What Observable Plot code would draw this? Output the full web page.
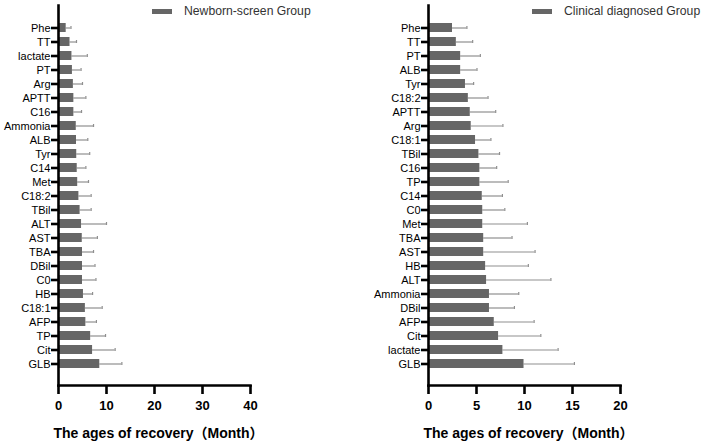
<!DOCTYPE html>
<html>
<head>
<meta charset="utf-8">
<script src="https://cdn.jsdelivr.net/npm/d3@7"></script>
<script src="https://cdn.jsdelivr.net/npm/@observablehq/plot@0.6"></script>
<style>
  html, body { margin: 0; padding: 0; background: #fff; }
  #wrap { position: relative; width: 706px; height: 444px; display: flex; font-family: "Liberation Sans", Arial, sans-serif; }
  .legend { position: absolute; top: 4px; display: flex; align-items: center; font-size: 12.2px; color: #333; white-space: nowrap; }
  .legend .sw { width: 20px; height: 5px; background: #666; margin-right: 12px; flex: none; }
</style>
</head>
<body>
<div id="wrap"></div>
<script>
// Newborn-screen Group (top to bottom)
const nbNames = ["Phe","TT","lactate","PT","Arg","APTT","C16","Ammonia","ALB","Tyr","C14","Met","C18:2","TBil","ALT","AST","TBA","DBil","C0","HB","C18:1","AFP","TP","Cit","GLB"];
const nbMean  = [1.6,2.4,2.8,2.9,3.1,3.2,3.2,3.7,3.75,3.8,3.9,4.0,4.25,4.5,4.8,4.95,5.0,5.0,5.0,5.2,5.6,5.7,6.7,7.1,8.6];
const nbUpper = [2.6,3.75,6.0,4.7,5.0,5.7,4.8,7.3,6.1,6.5,5.7,6.25,6.8,6.8,10.0,8.1,7.3,7.6,7.8,7.1,9.1,7.9,9.8,11.8,13.2];

// Clinical diagnosed Group (top to bottom)
const clNames = ["Phe","TT","PT","ALB","Tyr","C18:2","APTT","Arg","C18:1","TBil","C16","TP","C14","C0","Met","TBA","AST","HB","ALT","Ammonia","DBil","AFP","Cit","lactate","GLB"];
const clMean  = [2.5,2.9,3.35,3.35,3.85,4.15,4.35,4.45,4.9,5.25,5.35,5.35,5.6,5.65,5.65,5.75,5.75,5.95,6.05,6.35,6.35,6.85,7.3,7.75,9.95];
const clUpper = [4.0,4.6,5.4,5.05,4.7,6.2,7.0,7.75,6.5,7.4,7.1,8.3,7.7,7.95,10.3,8.7,11.1,10.4,12.75,9.4,8.95,11.0,11.7,13.5,15.2];

const nbTicks = [0,10,20,30,40];
const clTicks = [0,5,10,15,20];
const xTitle = "The ages of recovery（Month）";

function panel(names, mean, upper, xmax, ticks, mLeft, mRight) {
  const data = names.map((n, i) => ({name: n, mean: mean[i], upper: upper[i]}));
  return Plot.plot({
    width: 353,
    height: 444,
    marginLeft: mLeft,
    marginRight: mRight,
    marginTop: 5,
    marginBottom: 59,
    style: {fontFamily: "'Liberation Sans', Arial, sans-serif", color: "#000", background: "#fff"},
    x: {domain: [0, xmax], ticks: ticks},
    y: {domain: names, padding: 0.36},
    marks: [
      Plot.ruleY(data, {y: "name", x1: "mean", x2: "upper", stroke: "#8f8f8f", strokeWidth: 1.2}),
      Plot.tickX(data, {x: "upper", y: "name", stroke: "#8f8f8f", strokeWidth: 1.2, insetTop: 3, insetBottom: 3}),
      Plot.barX(data, {x: "mean", y: "name", fill: "#666666"}),
      Plot.frame({anchor: "left", stroke: "#000", strokeWidth: 2.6}),
      Plot.frame({anchor: "bottom", stroke: "#000", strokeWidth: 2.6}),
      Plot.axisY({tickSize: 7, strokeWidth: 2.6, tickPadding: 1, fontSize: 11, label: null, fill: "#000"}),
      Plot.axisX({ticks: ticks, tickSize: 9, strokeWidth: 2.6, tickPadding: 6, fontSize: 13, fontWeight: "bold", label: null, tickFormat: d => String(d)}),
      Plot.text([xTitle], {frameAnchor: "bottom", dy: 52, dx: 4, fontSize: 14, fontWeight: "bold", fill: "#000", fontFamily: "'Liberation Sans', 'Noto Sans CJK SC', sans-serif"})
    ]
  });
}

const wrap = document.getElementById("wrap");
wrap.appendChild(panel(nbNames, nbMean, nbUpper, 40, nbTicks, 58, 103));
wrap.appendChild(panel(clNames, clMean, clUpper, 20, clTicks, 75, 86));

function legend(label, left) {
  const d = document.createElement("div");
  d.className = "legend";
  d.style.left = left + "px";
  d.innerHTML = '<div class="sw"></div><span></span>';
  d.querySelector("span").textContent = label;
  wrap.appendChild(d);
}
legend("Newborn-screen Group", 152);
legend("Clinical diagnosed Group", 532);
</script>
</body>
</html>
